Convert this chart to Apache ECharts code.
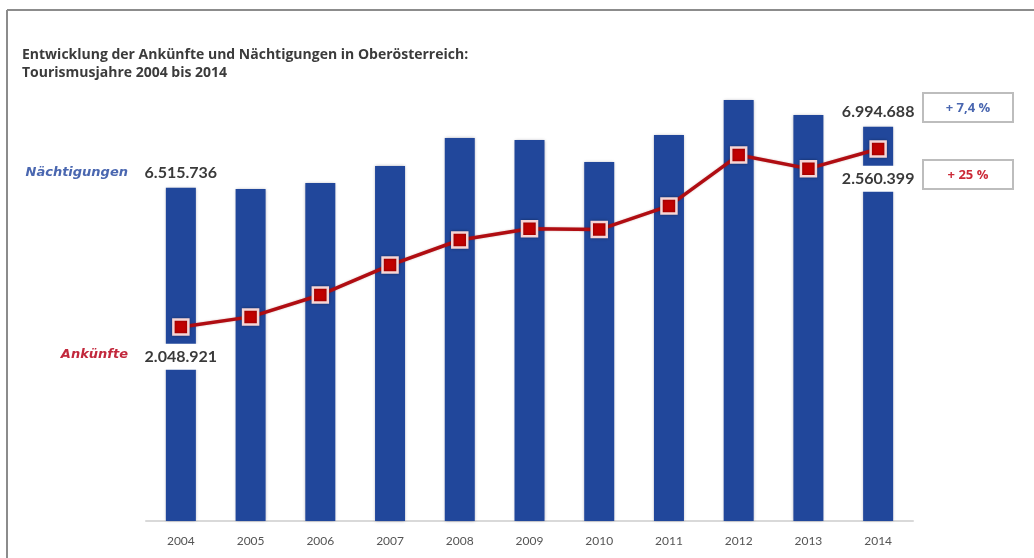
<!DOCTYPE html>
<html>
<head>
<meta charset="utf-8">
<script src="https://cdn.jsdelivr.net/npm/echarts@6/dist/echarts.min.js"></script>
<style>
  html, body { margin: 0; padding: 0; background: #ffffff; }
  #chart { width: 1034px; height: 558px; }
</style>
</head>
<body>
<div id="chart"></div>
<script>
// Tourismusjahre
const years = ['2004', '2005', '2006', '2007', '2008', '2009', '2010', '2011', '2012', '2013', '2014'];
// Nächtigungen (bars)
const naechtigungen = [6515736, 6507000, 6554000, 6687000, 6907000, 6892000, 6719000, 6931000, 7206000, 7088000, 6994688];
// Ankünfte (line)
const ankuenfte = [2048921, 2078000, 2141000, 2227000, 2299000, 2331000, 2329000, 2397000, 2543000, 2504000, 2560399];
// Veränderung 2004 → 2014
const changeNaechtigungen = '+ 7,4 %';
const changeAnkuenfte = '+ 25 %';

const titleLines = ['Entwicklung der Ankünfte und Nächtigungen in Oberösterreich:', 'Tourismusjahre 2004 bis 2014'];

function fmt(v) {
  return String(Math.round(v)).replace(/\B(?=(\d{3})+(?!\d))/g, '.');
}

const FONT = 'Lato, "Open Sans", sans-serif';
const TITLE_FONT = '"Open Sans", Lato, sans-serif';
const NAME_FONT = '"DejaVu Sans", "Open Sans", sans-serif';
const BAR = '#21479b';
const LINE = '#b00d12';
const last = years.length - 1;

const numLabel = {
  show: true,
  color: '#3a3a3a',
  fontFamily: FONT,
  fontWeight: 'bold',
  fontSize: 16
};

const barData = naechtigungen.map((v, i) => {
  if (i === 0 || i === last) {
    return { value: v, label: Object.assign({}, numLabel, { position: 'top', distance: 7, formatter: p => fmt(p.value) }) };
  }
  return v;
});

const lineData = ankuenfte.map((v, i) => {
  if (i === 0 || i === last) {
    return {
      value: v,
      label: Object.assign({}, numLabel, {
        position: 'bottom', distance: 8,
        backgroundColor: '#ffffff', padding: [5, 4, 5, 4],
        formatter: p => fmt(p.value)
      })
    };
  }
  return v;
});

const chart = echarts.init(document.getElementById('chart'), null, { renderer: 'canvas' });

chart.setOption({
  backgroundColor: '#ffffff',
  animation: false,
  grid: { left: 146, right: 121, top: 80, bottom: 37 },
  xAxis: {
    type: 'category',
    data: years,
    axisLine: { lineStyle: { color: '#d9d9d9', width: 2 } },
    axisTick: { show: false },
    axisLabel: { color: '#555555', fontFamily: FONT, fontSize: 12, margin: 14 }
  },
  yAxis: [
    { type: 'value', min: 3900000, max: 7362700, show: false, splitLine: { show: false } },
    { type: 'value', min: 1491500, max: 2758700, show: false, splitLine: { show: false } }
  ],
  series: [
    {
      name: 'Nächtigungen',
      type: 'bar',
      yAxisIndex: 0,
      barWidth: 30,
      data: barData,
      itemStyle: { color: BAR, shadowBlur: 3, shadowColor: 'rgba(0,0,40,0.35)' },
      label: { show: false },
      z: 2
    },
    {
      name: 'Ankünfte',
      type: 'line',
      yAxisIndex: 1,
      data: lineData,
      symbol: 'rect',
      symbolSize: 15,
      showAllSymbol: true,
      lineStyle: { color: LINE, width: 3.5, shadowBlur: 2, shadowColor: 'rgba(120,0,0,0.3)' },
      itemStyle: { color: '#c00000', borderColor: '#f6d6d6', borderWidth: 2.5, shadowBlur: 3, shadowColor: 'rgba(0,0,0,0.35)' },
      label: { show: false },
      z: 5
    }
  ],
  graphic: [
    // frame
    { type: 'line', shape: { x1: 7, y1: 10, x2: 1034, y2: 10 }, style: { stroke: '#8c8c8c', lineWidth: 2 } },
    { type: 'line', shape: { x1: 7, y1: 10, x2: 7, y2: 558 }, style: { stroke: '#8c8c8c', lineWidth: 2 } },
    // title
    { type: 'text', x: 22, y: 55, style: { text: titleLines[0], fill: '#3b3b3b', font: 'bold 14px ' + TITLE_FONT, verticalAlign: 'middle' } },
    { type: 'text', x: 22, y: 73, style: { text: titleLines[1], fill: '#3b3b3b', font: 'bold 14px ' + TITLE_FONT, verticalAlign: 'middle' } },
    // series names
    { type: 'text', x: 128, y: 173, style: { text: 'Nächtigungen', fill: '#4a67b0', font: 'italic bold 13px ' + NAME_FONT, align: 'right', verticalAlign: 'middle' } },
    { type: 'text', x: 128, y: 355, style: { text: 'Ankünfte', fill: '#c2283c', font: 'italic bold 13px ' + NAME_FONT, align: 'right', verticalAlign: 'middle' } },
    // change boxes
    { type: 'rect', shape: { x: 923, y: 93, width: 90, height: 29 }, style: { fill: '#ffffff', stroke: '#bdbdbd', lineWidth: 2 } },
    { type: 'text', x: 968, y: 108, style: { text: changeNaechtigungen, fill: '#4a67b0', font: 'bold 13px ' + TITLE_FONT, align: 'center', verticalAlign: 'middle' } },
    { type: 'rect', shape: { x: 923, y: 160, width: 90, height: 29 }, style: { fill: '#ffffff', stroke: '#bdbdbd', lineWidth: 2 } },
    { type: 'text', x: 968, y: 175, style: { text: changeAnkuenfte, fill: '#cc2a38', font: 'bold 13px ' + TITLE_FONT, align: 'center', verticalAlign: 'middle' } }
  ]
});
</script>
</body>
</html>
